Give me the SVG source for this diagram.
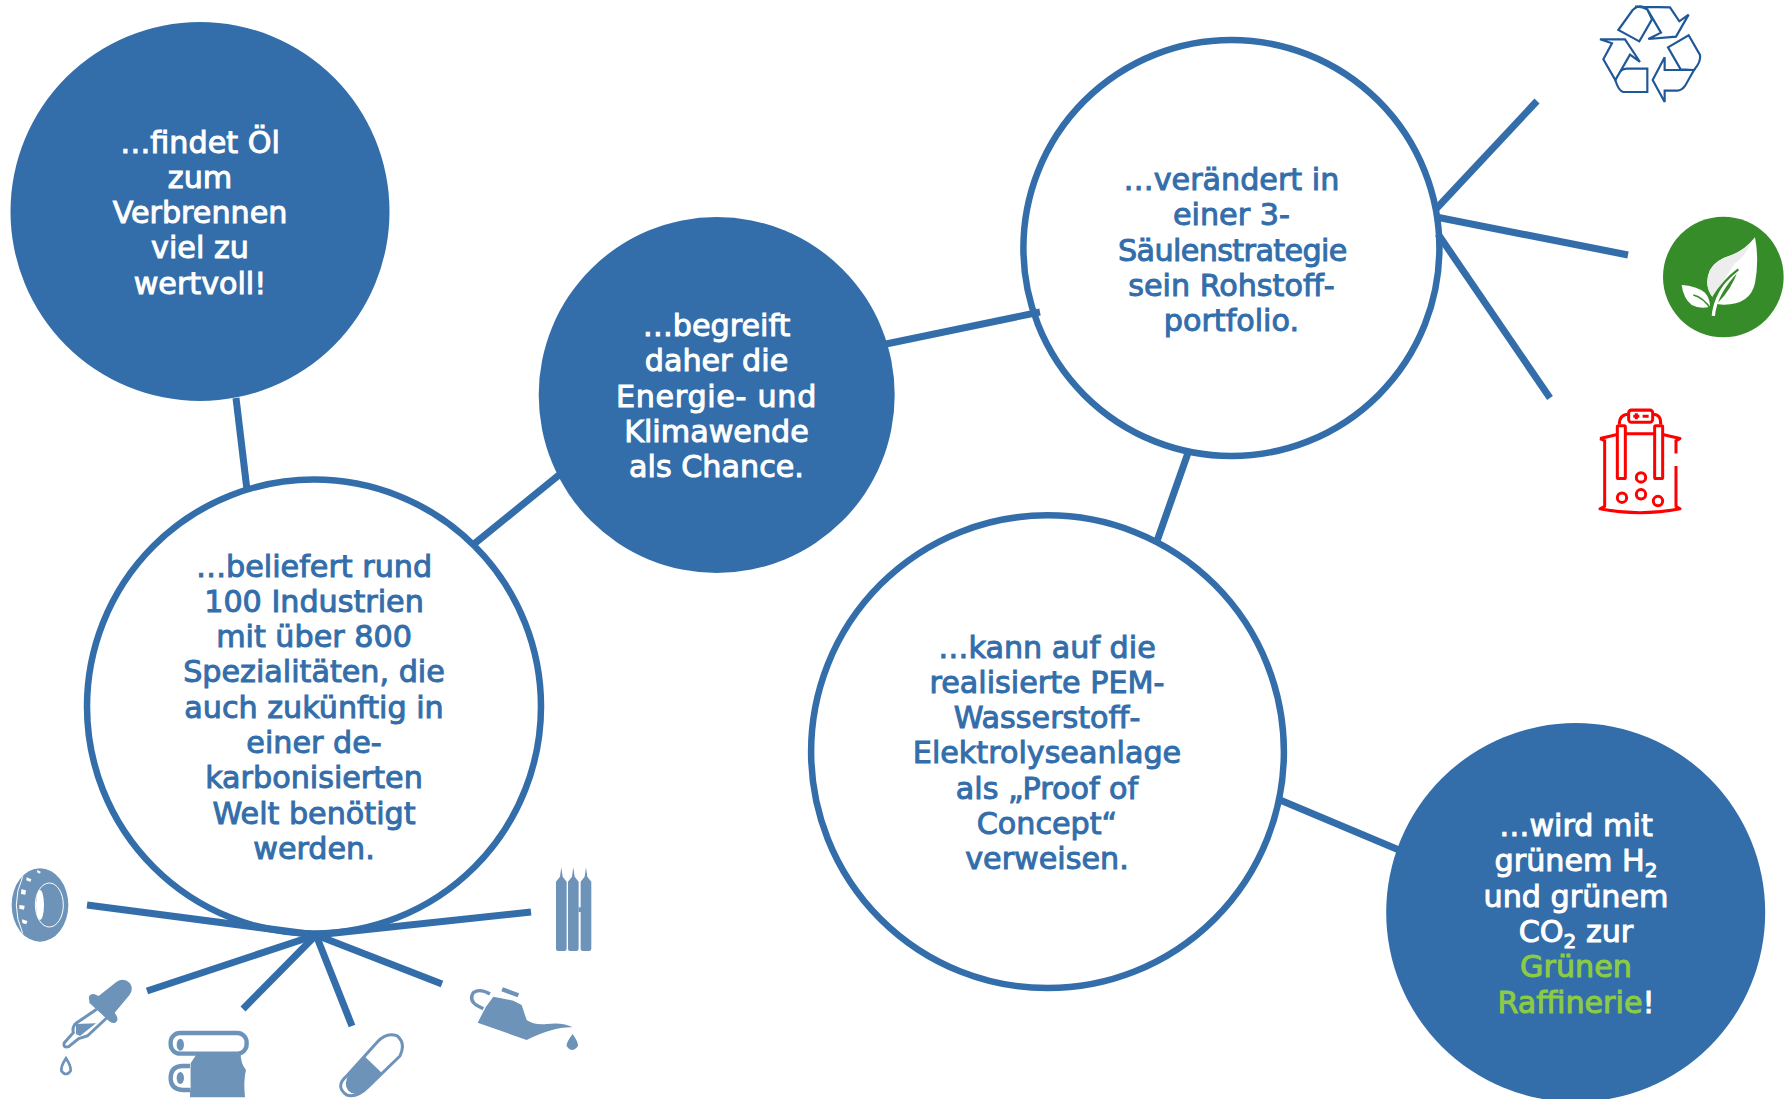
<svg xmlns="http://www.w3.org/2000/svg" width="1791" height="1099" viewBox="0 0 1791 1099">
<style>
text{font-family:"DejaVu Sans",sans-serif;font-size:30.2px;text-anchor:middle;stroke-width:1px;paint-order:stroke}
text.w{fill:#fff;stroke:#fff}
.b{fill:#336EAB;stroke:#336EAB}
.g{fill:#8CCB44;stroke:#8CCB44}
.sub{font-size:20px;baseline-shift:-6px}
.filled{fill:#336EAB}
.ring{fill:#fff;stroke:#336EAB;stroke-width:6.5}
#connectors line{stroke:#336EAB;stroke-width:7}
.ic{fill:#6D93B9}
.ws{fill:#fff}
.rc{fill:#fff;stroke:#1F5899;stroke-width:6.5;stroke-linejoin:miter}
.rd{fill:none;stroke:#F00;stroke-width:9;stroke-linejoin:round}
</style>
<g id="n1"><circle class="filled" cx="200" cy="211.5" r="189.5"/>
<text class="w"><tspan x="200" y="152.6">…findet Öl</tspan><tspan x="200" y="188">zum</tspan><tspan x="200" y="223">Verbrennen</tspan><tspan x="200" y="258">viel zu</tspan><tspan x="200" y="293.6">wertvoll!</tspan></text></g>
<g id="n2"><circle class="ring" cx="314" cy="706.5" r="227"/>
<text class="b"><tspan x="314" y="576.5">…beliefert rund</tspan><tspan x="314" y="611.8">100 Industrien</tspan><tspan x="314" y="647.1">mit über 800</tspan><tspan x="314" y="682.4">Spezialitäten, die</tspan><tspan x="314" y="717.7">auch zukünftig in</tspan><tspan x="314" y="753">einer de-</tspan><tspan x="314" y="788.3">karbonisierten</tspan><tspan x="314" y="823.6">Welt benötigt</tspan><tspan x="314" y="858.9">werden.</tspan></text></g>
<g id="n3"><circle class="filled" cx="716.7" cy="395" r="178"/>
<text class="w"><tspan x="716.5" y="336">…begreift</tspan><tspan x="716.5" y="371.3">daher die</tspan><tspan x="716.5" y="406.6" letter-spacing=".7">Energie- und</tspan><tspan x="716.5" y="441.9">Klimawende</tspan><tspan x="716.5" y="477.2">als Chance.</tspan></text></g>
<g id="n4"><circle class="ring" cx="1231.4" cy="248" r="208"/>
<text class="b"><tspan x="1236" y="190" dx="-4.6">…verändert in</tspan><tspan x="1236" y="225.3" dx="-4.6">einer 3-</tspan><tspan x="1237" y="260.6" dx="-4.6" letter-spacing="-.6">Säulenstrategie</tspan><tspan x="1236" y="295.9" dx="-4.6">sein Rohstoff-</tspan><tspan x="1236" y="331.2" dx="-4.6">portfolio.</tspan></text></g>
<g id="n5"><circle class="ring" cx="1047.5" cy="751.7" r="236.4"/>
<text class="b"><tspan x="1047" y="657.5">…kann auf die</tspan><tspan x="1047" y="692.8">realisierte PEM-</tspan><tspan x="1047" y="728.1">Wasserstoff-</tspan><tspan x="1047" y="763.4">Elektrolyseanlage</tspan><tspan x="1047" y="798.7">als „Proof of</tspan><tspan x="1047" y="834">Concept“</tspan><tspan x="1047" y="869.3">verweisen.</tspan></text></g>
<g id="n6"><circle class="filled" cx="1575.7" cy="912.5" r="189.5"/>
<text class="w" x="1576" y="836">…wird mit</text>
<text class="w" x="1576" y="871.3">grünem H<tspan class="sub">2</tspan></text>
<text class="w" x="1576" y="906.6">und grünem</text>
<text class="w" x="1576" y="941.9">CO<tspan class="sub">2</tspan> zur</text>
<text class="g" x="1576" y="977.2">Grünen</text>
<text class="w" x="1576" y="1012.5"><tspan class="g">Raffinerie</tspan>!</text></g>
<g id="connectors">
<line x1="236" y1="398" x2="247" y2="490"/>
<line x1="474" y1="544" x2="559" y2="475"/>
<line x1="886" y1="344" x2="1040" y2="312"/>
<line x1="1188" y1="453" x2="1157" y2="541"/>
<line x1="1280" y1="800" x2="1399" y2="850"/>
<line x1="1436" y1="209" x2="1537" y2="101"/>
<line x1="1436" y1="217" x2="1628" y2="255"/>
<line x1="1438" y1="234" x2="1550" y2="398"/>
<line x1="87" y1="905" x2="316" y2="935"/>
<line x1="147" y1="991" x2="316" y2="935"/>
<line x1="243" y1="1009" x2="316" y2="935"/>
<line x1="352" y1="1026" x2="316" y2="935"/>
<line x1="442" y1="984" x2="316" y2="935"/>
<line x1="531" y1="912" x2="316" y2="935"/>
</g>
<g id="icon-recycle" transform="translate(1590 0) scale(.3333)">
<path class="rc" d="M85,90 L128,30 Q150,10 172,28 L186,58 L148,124 Z"/>
<path class="rc" d="M135,20 L240,22 L268,64 L296,44 L258,110 L175,117 L213,98 L172,28 Q155,18 135,20 Z"/>
<path class="rc" d="M234,142 L296,106 L330,165 Q334,185 312,210 L272,208 Z"/>
<path class="rc" d="M312,210 L224,210 L224,172 L188,240 L224,306 L224,272 L262,272 Q275,272 285,258 Z"/>
<path class="rc" d="M76,240 Q85,206 110,206 L172,206 L172,276 L100,276 Q85,272 76,240 Z"/>
<path class="rc" d="M30,118 L105,118 L150,186 L120,164 L76,240 L40,178 L66,130 Z"/>
</g>
<g id="icon-leaf" transform="translate(1660 210) scale(.3333)">
<circle cx="190" cy="201" r="181" fill="#358C28"/>
<path fill="#fff" d="M285,82 Q298,150 285,220 Q270,285 190,284 L170,282 Q215,240 235,178 Q190,215 158,262 Q130,225 150,180 Q165,150 215,135 Q255,120 285,82 Z"/>
<path fill="#EDEDED" d="M272,100 Q255,140 225,160 L158,262 Q130,225 150,180 Q165,150 215,135 Q245,125 272,100 Z"/>
<path fill="#fff" d="M65,225 Q110,228 135,248 Q150,265 150,290 Q120,298 95,285 Q70,265 65,225 Z"/>
<path d="M160,318 Q165,250 235,178" fill="none" stroke="#fff" stroke-width="10"/>
<path d="M235,178 Q190,212 160,262" fill="none" stroke="#358C28" stroke-width="7"/>
<path d="M100,255 Q130,262 155,300" fill="none" stroke="#358C28" stroke-width="5"/>
</g>
<g id="icon-electrolyser" transform="translate(1590 400) scale(.3333 .338)">
<path class="rd" d="M30,114 L82,102 M218,102 L270,114 L258,120 L258,158 M258,195 L258,315 L270,322 Q150,345 30,322 L44,315 L44,120 L30,114 M106,100 L194,100"/>
<rect class="rd" x="82" y="76" width="24" height="156" rx="3"/>
<rect class="rd" x="194" y="76" width="24" height="156" rx="3"/>
<path class="rd" d="M88,72 Q88,42 116,42 M188,42 Q214,42 212,72"/>
<rect class="rd" x="116" y="30" width="72" height="36" rx="8"/>
<path class="rd" d="M130,48 H148 M139,39 V57 M158,48 H176"/>
<circle class="rd" cx="153" cy="229" r="14"/><circle class="rd" cx="96" cy="289" r="14"/><circle class="rd" cx="153" cy="279" r="14"/><circle class="rd" cx="204" cy="299" r="14"/>
</g>
<g id="icon-tire" transform="translate(0 850) scale(.3333)">
<ellipse class="ic" cx="120" cy="165" rx="85" ry="110"/>
<path d="M68,80 Q30,165 68,250" fill="none" stroke="#fff" stroke-width="3"/>
<ellipse cx="148" cy="165" rx="42" ry="66" fill="none" stroke="#fff" stroke-width="3"/>
<ellipse class="ws" cx="120" cy="165" rx="12" ry="45"/>
<path class="ws" d="M80,82l14,6-3,8-12-5zM64,118l14,3-2,13-13-2zM58,165l16,2-2,12-14-3zM66,208l16,5-3,10-12-4zM112,60l10,5-2,6-9-4z"/>
</g>
<g id="icon-dropper" transform="translate(0 850) scale(.3333)">
<path class="ic" d="M268,452 Q262,432 282,432 L296,438 L350,395 Q372,382 390,400 Q402,418 388,436 L344,488 Q360,510 346,518 Q336,522 326,512 L268,458 Z"/>
<path d="M290,478 L228,520 Q216,530 220,548 L193,578 Q188,594 206,590 L236,566 Q252,562 262,558 L320,504" fill="none" stroke="#6D93B9" stroke-width="9"/>
<path class="ic" d="M228,522 L288,520 L240,558 L228,552 Z"/>
<path d="M198,625 Q182,650 184,662 Q198,682 212,662 Q214,650 198,625 Z" fill="#fff" stroke="#6D93B9" stroke-width="8"/>
</g>
<g id="icon-roll" transform="translate(0 850) scale(.3333)">
<path class="ic" d="M570,742 L735,742 Q730,690 738,660 Q722,640 722,612 L590,612 L572,640 Z"/>
<rect x="512" y="549" width="228" height="62" rx="28" fill="#fff" stroke="#6D93B9" stroke-width="13"/>
<path d="M570,648 L545,648 Q512,650 512,685 Q512,718 548,720 L572,720" fill="#fff" stroke="#6D93B9" stroke-width="13"/>
<ellipse class="ic" cx="541" cy="584" rx="11" ry="18"/><ellipse class="ic" cx="541" cy="684" rx="11" ry="18"/>
</g>
<g id="icon-pill" transform="translate(320 850) scale(.3333)">
<path d="M78,680 L172,576 Q200,545 232,558 Q258,580 240,618 L145,710 Q110,745 80,735 Q45,710 78,680 Z" fill="#fff" stroke="#6D93B9" stroke-width="9"/>
<path class="ic" d="M135,620 L185,668 L135,718 Q105,742 85,722 Q68,700 90,668 Z"/>
</g>
<g id="icon-can" transform="translate(320 850) scale(.3333)">
<path class="ic" d="M473,518 L498,470 L520,440 L580,452 L605,465 L620,510 Q640,525 680,522 Q730,516 758,532 Q700,530 620,570 Z"/>
<path d="M510,432 Q480,414 460,428 Q446,450 470,466 L490,476" fill="none" stroke="#6D93B9" stroke-width="10"/>
<rect class="ic" x="545" y="420" width="52" height="13" transform="rotate(20 570 426)"/>
<path class="ic" d="M758,552 Q738,578 740,588 Q756,612 774,588 Q776,578 758,552 Z"/>
</g>
<g id="icon-bottles" transform="translate(320 850) scale(.3333)">
<path class="ic" d="M708,95 L720,80 L724,52 L728,80 L740,95 L740,296 Q740,303 733,303 L714,303 Q708,303 708,296 Z"/>
<path class="ic" d="M744,95 L756,80 L760,52 L764,80 L776,95 L776,296 Q776,303 769,303 L750,303 Q744,303 744,296 Z"/>
<path class="ic" d="M782,95 L794,80 L798,52 L802,80 L814,95 L814,296 Q814,303 807,303 L788,303 Q782,303 782,296 Z"/>
<rect class="ic" x="776" y="172" width="8" height="14"/>
</g>
</svg>
